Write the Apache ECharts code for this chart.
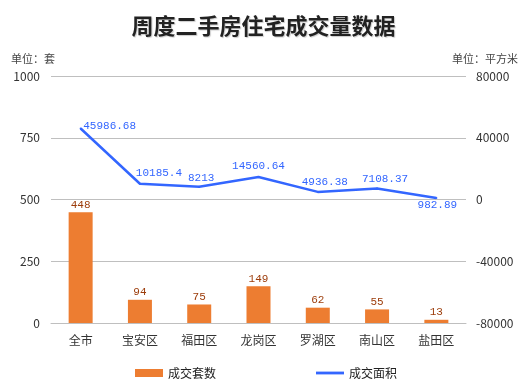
<!DOCTYPE html>
<html><head><meta charset="utf-8">
<script src="https://cdn.jsdelivr.net/npm/echarts@6/dist/echarts.min.js"></script>
<style>html,body{margin:0;padding:0;background:#fff}#c{width:527px;height:389px}</style>
</head><body><div id="c"></div>
<script>
const categories = ['全市','宝安区','福田区','龙岗区','罗湖区','南山区','盐田区'];
const counts = [448, 94, 75, 149, 62, 55, 13];
const areas = [45986.68, 10185.4, 8213, 14560.64, 4936.38, 7108.37, 982.89];
const leftTicks = [0, 250, 500, 750, 1000];
const rightTicks = [-80000, -40000, 0, 40000, 80000];
const labelShift = [[29,9],[19,1],[2,3],[0,1],[7,2],[8,2],[1,19]];

const chart = echarts.init(document.getElementById('c'));
const font = '"Noto Sans CJK SC", sans-serif';
const mono = '"Liberation Mono", monospace';
chart.setOption({
  animation: false,
  textStyle: {fontFamily: font},
  title: {text: '周度二手房住宅成交量数据', left: 'center', top: 10,
    textStyle: {fontSize: 22, fontWeight: 'bold', color: '#222', fontFamily: font,
      textShadowColor: 'rgba(0,0,0,0.2)', textShadowBlur: 1, textShadowOffsetX: 1, textShadowOffsetY: 1}},
  legend: {bottom: 5, left: 130, itemGap: 100, itemWidth: 28, itemHeight: 8,
    textStyle: {fontSize: 12, color: '#222', fontFamily: font},
    data: [{name: '成交套数', icon: 'rect'},
           {name: '成交面积', icon: 'path://M0,0 L30,0 L30,3 L0,3 Z'}]},
  grid: {left: 51, right: 61, top: 76, bottom: 66},
  xAxis: {type: 'category', data: categories,
    axisLine: {lineStyle: {color: '#bfbfbf'}}, axisTick: {show: false},
    axisLabel: {fontSize: 12, color: '#333', margin: 11, fontFamily: font}},
  yAxis: [
    {type: 'value', min: leftTicks[0], max: leftTicks[leftTicks.length-1], interval: 250,
      name: '单位：套', nameLocation: 'end', nameGap: 12,
      nameTextStyle: {fontSize: 11, color: '#444', align: 'left', padding: [0,0,0,-40], fontFamily: font},
      axisLabel: {fontSize: 12, color: '#333', margin: 11, formatter: v => String(v)},
      splitLine: {lineStyle: {color: '#bfbfbf'}}, axisLine: {show: false}, axisTick: {show: false}},
    {type: 'value', min: rightTicks[0], max: rightTicks[rightTicks.length-1], interval: 40000,
      name: '单位：平方米', nameLocation: 'end', nameGap: 12,
      nameTextStyle: {fontSize: 11, color: '#444', align: 'right', padding: [0,-52,0,0], fontFamily: font},
      axisLabel: {fontSize: 12, color: '#333', margin: 10, formatter: v => String(v)},
      splitLine: {show: false}, axisLine: {show: false}, axisTick: {show: false}}
  ],
  series: [
    {name: '成交套数', type: 'bar', yAxisIndex: 0, data: counts, barWidth: 24,
      itemStyle: {color: '#ed7d31'},
      label: {show: true, position: 'top', distance: 2, color: '#9c3c0a', fontSize: 11, fontFamily: mono}},
    {name: '成交面积', type: 'line', yAxisIndex: 1, symbol: 'circle', symbolSize: 2, showSymbol: true,
      lineStyle: {color: '#3366ff', width: 2.5}, itemStyle: {color: '#3366ff'},
      label: {show: true, position: 'top', color: '#3366ff', fontSize: 11, fontFamily: mono},
      labelLayout: p => ({dx: labelShift[p.dataIndex][0], dy: labelShift[p.dataIndex][1], hideOverlap: false}),
      data: areas}
  ]
});
</script></body></html>
